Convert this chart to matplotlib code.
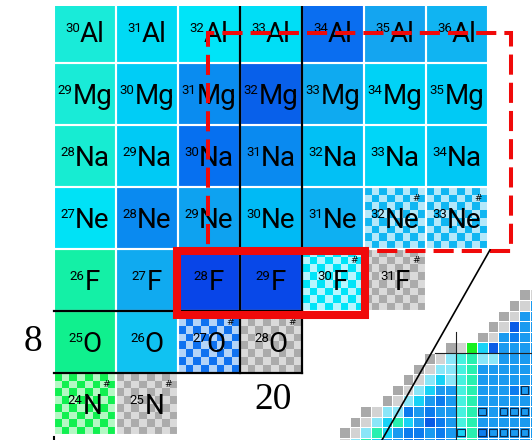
import numpy as np
import matplotlib
matplotlib.use("Agg")
import matplotlib.pyplot as plt
from matplotlib.patches import Rectangle
from matplotlib.colors import ListedColormap
from matplotlib.transforms import ScaledTranslation

# ---------------------------------------------------------------- data
# rows of the chart: proton number, element symbol, first neutron number
Z_VALUES = [13, 12, 11, 10, 9, 8, 7]
SYMBOLS = ["Al", "Mg", "Na", "Ne", "F", "O", "N"]
FIRST_N = [17, 17, 17, 17, 17, 17, 17]

# cell colours along each row (increasing neutron number)
COLORS_AL = ["#19EBD9", "#00DAF4", "#00E4F8", "#00DEF6", "#0A6EF0", "#14A5F0", "#10B4F2"]
COLORS_MG = ["#19EBD7", "#00CDF6", "#0A8CF0", "#0860EA", "#0FAAF0", "#00D2F6", "#00CAF5"]
COLORS_NA = ["#17ECD2", "#00CAF5", "#0670F0", "#0A8AF0", "#02C0F5", "#00D6F8", "#00C8F5"]
COLORS_NE = ["#00E2F6", "#0A8AF0", "#0EA2F0", "#00BAF5", "#0EB0F2", "#10B6F2", "#10B6F2"]
COLORS_F = ["#14F0A6", "#10AAF0", "#0845E8", "#0848E8", "#00E4F8", "#ABABAB"]
COLORS_O = ["#10F08E", "#10C2F2", "#1072F0", "#ABABAB"]
COLORS_N = ["#10F050", "#ABABAB"]
ROW_COLORS = [COLORS_AL, COLORS_MG, COLORS_NA, COLORS_NE, COLORS_F, COLORS_O, COLORS_N]

# estimated (unmeasured) nuclides, given as mass numbers per row
ESTIMATED_AL = []
ESTIMATED_MG = []
ESTIMATED_NA = []
ESTIMATED_NE = [32, 33]
ESTIMATED_F = [30, 31]
ESTIMATED_O = [27, 28]
ESTIMATED_N = [24, 25]
ROW_ESTIMATED = [ESTIMATED_AL, ESTIMATED_MG, ESTIMATED_NA, ESTIMATED_NE,
                 ESTIMATED_F, ESTIMATED_O, ESTIMATED_N]

# pale partner colour for the checker pattern of estimated nuclides
CHECKER_LIGHT = {
    "#10B6F2": "#B4E8FA",
    "#00E4F8": "#B8F6FE",
    "#ABABAB": "#DADADA",
    "#1072F0": "#B4D4F8",
    "#10F050": "#B4F8C4",
}

MAGIC_N = 20
MAGIC_Z = 8

# overview chart (small cells), one character per cell
OVERVIEW_ROWS = [
    "                   ",
    "                 Gg",
    "                Ggb",
    "               Ggbb",
    "              GgDbb",
    "             GgbBbb",
    "          GgeaDbbbb",
    "        Ggcqmccbbbb",
    "       Ggccqmbbbbbb",
    "      Ggcacqmbbbbbb",
    "     GgcabbqmbbbBbb",
    "    GgcabBbqmbbbbbb",
    "  GgccBbBbbqmbbbbbb",
    " GgcamabDBbqmbbbbbb",
    "GgcmabBBbBbamBbbbbb",
    "gcmabbBBbBbqmbbbbbb",
]
OVERVIEW_KEYS = "GgcabBDemq"
OVERVIEW_COLORS = ["#A9A9A9", "#D3D3D3", "#8AE6F8", "#18D2F6", "#1A9AF0",
                   "#0C7CEE", "#0A5CE6", "#18F020", "#28F0B0", "#48F2E0"]
OVERVIEW_STABLE = [(10, 17), (12, 13), (12, 15), (12, 16), (12, 17),
                   (14, 11), (14, 13), (14, 14), (14, 15), (14, 16), (14, 17)]

# ---------------------------------------------------------------- figure
DPI = 100
fig = plt.figure(figsize=(5.32, 4.40), dpi=DPI)
fig.patch.set_facecolor("white")

# overview chart in the lower right corner
cell_px = 10.6
ov_left, ov_top = 339.1, 278.8
n_rows, n_cols = len(OVERVIEW_ROWS), len(OVERVIEW_ROWS[0])
ax_ov = fig.add_axes([ov_left / 532, (440 - (ov_top + n_rows * cell_px)) / 440,
                      n_cols * cell_px / 532, n_rows * cell_px / 440])
ax_ov.set_zorder(0)
ax_ov.patch.set_visible(False)
ax_ov.set_axis_off()
grid = np.ma.masked_all((n_rows, n_cols))
for r, line in enumerate(OVERVIEW_ROWS):
    for c, ch in enumerate(line):
        if ch != " ":
            grid[r, c] = OVERVIEW_KEYS.index(ch)
ov_cmap = ListedColormap(OVERVIEW_COLORS)
ax_ov.pcolormesh(np.arange(n_cols + 1), np.arange(n_rows + 1), grid, cmap=ov_cmap,
                 vmin=-0.5, vmax=len(OVERVIEW_COLORS) - 0.5,
                 edgecolors="white", linewidth=0.5)
for r, c in OVERVIEW_STABLE:
    ax_ov.add_patch(Rectangle((c + 0.15, r + 0.15), 0.7, 0.7, fill=False,
                              ec="#0A2A50", lw=0.8))
ax_ov.plot([11, 11], [5, n_rows], color="#202020", lw=0.8)
ax_ov.plot([9, n_cols], [7, 7], color="#202020", lw=0.8)
ax_ov.set_xlim(0, n_cols)
ax_ov.set_ylim(n_rows, 0)

# main chart, axes in (N, Z)
ax = fig.add_axes([0, 0, 1, 434 / 440])
ax.set_zorder(1)
ax.patch.set_visible(False)
ax.set_axis_off()
ax.set_xlim(15.629, 24.210)
ax.set_ylim(6.419, 13.419)

renderer = fig.canvas.get_renderer()
checker = (np.indices((8, 8)).sum(axis=0) % 2 == 1).astype(int)


def px(v):
    return v / DPI


for Z, sym, n0, colors, est in zip(Z_VALUES, SYMBOLS, FIRST_N, ROW_COLORS, ROW_ESTIMATED):
    for i, col in enumerate(colors):
        N = n0 + i
        A = Z + N
        x0, y0 = N - 0.5, Z - 0.5
        if A in est:
            cm = ListedColormap([col, CHECKER_LIGHT[col]])
            ax.imshow(checker, cmap=cm, extent=(x0, x0 + 1, y0, y0 + 1),
                      interpolation="nearest", aspect="auto", zorder=1, vmin=0, vmax=1)
            ax.text(N + 0.5 - 10 / 62, Z + 0.5 - 12 / 62, "#", fontsize=6.5,
                    family="DejaVu Sans", ha="center", va="center", zorder=4)
        else:
            ax.add_patch(Rectangle((x0, y0), 1, 1, fc=col, ec="none", zorder=1))
        ax.add_patch(Rectangle((x0, y0), 1, 1, fill=False, ec="white", lw=1.5, zorder=2))

        t_sym = ax.text(N, Z, sym, fontsize=20, family="Roboto", ha="left",
                        va="baseline", zorder=4)
        t_sup = ax.text(N, Z, str(A), fontsize=9.5, family="Roboto", ha="right",
                        va="baseline", zorder=4)
        w_sym = t_sym.get_window_extent(renderer).width
        w_sup = t_sup.get_window_extent(renderer).width
        dx = (w_sup - w_sym) / 2
        t_sym.set_transform(ax.transData + ScaledTranslation(px(dx), px(-9.8), fig.dpi_scale_trans))
        t_sup.set_transform(ax.transData + ScaledTranslation(px(dx), px(0.4), fig.dpi_scale_trans))

ax.set_xlim(15.629, 24.210)
ax.set_ylim(6.419, 13.419)

# magic-number lines
ax.plot([MAGIC_N - 0.5] * 2, [13.6, MAGIC_Z - 0.5], color="black", lw=1.6, zorder=3)
ax.plot([MAGIC_N + 0.5] * 2, [13.6, MAGIC_Z - 0.5], color="black", lw=1.6, zorder=3)
ax.plot([16.5, MAGIC_N + 0.5], [MAGIC_Z + 0.5] * 2, color="black", lw=1.6, zorder=3)
ax.plot([16.5, MAGIC_N + 0.5], [MAGIC_Z - 0.5] * 2, color="black", lw=1.6, zorder=3)
ax.text(16.161, MAGIC_Z, str(MAGIC_Z), fontsize=27, family="Liberation Serif",
        ha="center", va="center", zorder=4)
ax.text(20.032, 7.065, str(MAGIC_N), fontsize=27, family="Liberation Serif",
        ha="center", va="center", zorder=4)

# highlighted regions
ax.add_patch(Rectangle((18.984, 9.468), 4.887, 3.516, fill=False, ec="#F00A0A",
                       lw=2.9, ls=(0, (5, 2)), zorder=5))
ax.add_patch(Rectangle((18.484, 8.435), 3.032, 1.033, fill=False, ec="#F00A0A",
                       lw=5.8, joinstyle="miter", zorder=6))

# zoom lines towards the overview chart
ax.plot([23.532, 21.79], [9.484, 6.419], color="black", lw=1.2, zorder=5)
ax.plot([16.5, 16.5], [6.47, 6.419], color="black", lw=1.5, zorder=5)

fig.savefig("out.png", dpi=DPI, facecolor="white")
